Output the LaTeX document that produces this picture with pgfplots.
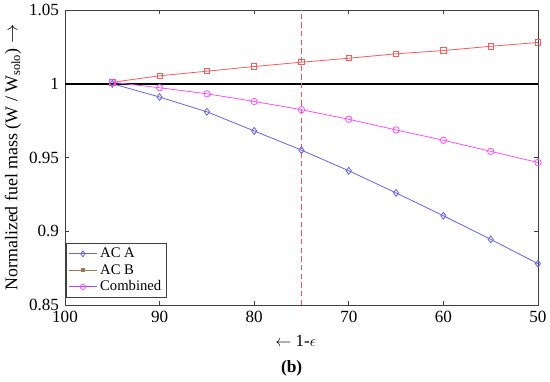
\documentclass[border=0pt]{standalone}
\usepackage{fontspec}
\setmainfont{Liberation Serif}
\usepackage{pgfplots}
\pgfplotsset{compat=1.18}
\definecolor{cA}{RGB}{100,100,235}
\definecolor{cB}{RGB}{250,90,90}
\definecolor{cC}{RGB}{250,80,250}
\definecolor{cBleg}{RGB}{160,120,80}
\definecolor{cCleg}{RGB}{170,70,250}
\definecolor{vline}{rgb}{0.93,0.35,0.35}
\begin{document}
\begin{tikzpicture}[x=1pt,y=1pt]
\useasboundingbox (-48.75pt,-57.75pt) rectangle (363.75pt,228.75pt);
\begin{axis}[
  scale only axis,
  width=354.75pt, height=221.25pt,
  x dir=reverse,
  xmin=50, xmax=100, ymin=0.85, ymax=1.05,
  xtick={50,60,70,80,90,100},
  ytick={0.85,0.9,0.95,1,1.05},
  tick align=inside,
  major tick length=3pt,
  axis line style={black!75, line width=0.5pt},
  every tick/.style={black!75, line width=0.5pt},
  tick label style={font=\fontsize{12.8}{15}\selectfont},
  /pgf/number format/assume math mode=true,
  xticklabel style={yshift=-1pt},
  yticklabel style={xshift=-1pt},
  xlabel={$\leftarrow$ 1-$\epsilon$},
  ylabel={Normalized fuel mass (W / W\textsubscript{solo}) $\rightarrow$},
  label style={font=\fontsize{13.4}{16}\selectfont},
  x label style={at={(axis description cs:0.488,-0.12)}, anchor=center, font=\fontsize{12.8}{15}\selectfont},
  y label style={at={(axis description cs:-0.11,0.5)}, anchor=center, rotate=0},
  legend style={at={(axis description cs:0.002,0.024)}, anchor=south west,
    font=\fontsize{11}{13}\selectfont, draw=black!75, line width=0.5pt,
    inner sep=1.5pt, row sep=-0.5pt, cells={anchor=west}},
  legend cell align=left,
  legend image code/.code={\draw[#1] (0cm,0cm) -- (0.75cm,0cm); \draw[#1, only marks] plot coordinates {(0.375cm,0cm)};},
  clip=true,
]
\addplot[black, line width=1.4pt, forget plot] coordinates {(100,1) (50,1)};
\addplot[color=vline, dash pattern=on 4pt off 2.5pt, line width=1.1pt, forget plot] coordinates {(75,0.85) (75,1.05)};
\addplot[cA, line width=0.6pt, mark=diamond, mark size=2.6pt, mark options={solid, line width=0.6pt}, forget plot] coordinates {
(95,1.000) (90,0.991) (85,0.981) (80,0.968) (75,0.955) (70,0.941) (65,0.926) (60,0.9105) (55,0.8945) (50,0.878)};
\addplot[cB, line width=0.6pt, mark=square, mark size=2pt, mark options={solid, line width=0.6pt}, forget plot] coordinates {
(95,1.001) (90,1.0054) (85,1.0085) (80,1.0117) (75,1.0146) (70,1.0173) (65,1.0203) (60,1.0225) (55,1.0254) (50,1.028)};
\addplot[cC, line width=0.6pt, mark=o, mark size=2.4pt, mark options={solid, line width=0.6pt}, forget plot] coordinates {
(95,1.001) (90,0.9973) (85,0.9932) (80,0.988) (75,0.9824) (70,0.9759) (65,0.9687) (60,0.9617) (55,0.9542) (50,0.9466)};
\addlegendimage{cA, line width=0.6pt, mark=diamond, mark size=2.2pt}
\addlegendentry{AC A}
\addlegendimage{cBleg, line width=0.6pt, mark=square*, mark size=1.2pt}
\addlegendentry{AC B}
\addlegendimage{cCleg, line width=0.6pt, mark=o, mark size=2pt, mark options={draw=cC}}
\addlegendentry{Combined}
\end{axis}
\node[font=\fontsize{13}{15}\selectfont\bfseries] at (170pt,-47.25pt) {(b)};
\end{tikzpicture}
\end{document}
